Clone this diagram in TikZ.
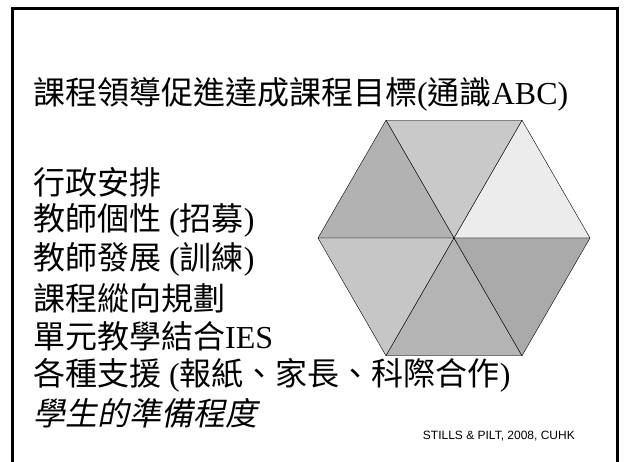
\documentclass[tikz,border=0pt]{standalone}
\usepackage{fontspec}
\setmainfont{Liberation Serif}
\newfontfamily\zhfont{Noto Sans CJK TC}
\newfontfamily\zhslfont{Noto Sans CJK TC}[FakeSlant=0.2]
\newfontfamily\notefont{Liberation Sans}
\newcommand\zh[1]{{\zhfont #1}}
\definecolor{hexA}{HTML}{B2B2B2}
\definecolor{hexB}{HTML}{C9C9C9}
\definecolor{hexC}{HTML}{ECECEC}
\definecolor{hexD}{HTML}{C6C6C6}
\definecolor{hexE}{HTML}{B4B4B4}
\definecolor{hexF}{HTML}{AAAAAA}
\tikzset{
  slidetext/.style={anchor=west,inner sep=0pt,font=\fontsize{32}{38}\selectfont},
  notetext/.style={anchor=east,inner sep=0pt,font=\notefont\fontsize{12}{14}\selectfont}
}
\begin{document}
\begin{tikzpicture}[x=1pt,y=1pt]
                \useasboundingbox (0,0) rectangle (624,462);
                \clip (0,0) rectangle (624,462);
                %% slide frame
                \draw[line width=3pt] (12,-10) -- (12,453) -- (617,453) -- (617,-10);
                %% title
                \node[slidetext] (title) at (33,368) {\zh{課程領導促進達成課程目標}(\zh{通識}ABC)};
                %% list
                \foreach \t [count=\i] in {{\zh{行政安排}},{\zh{教師個性} (\zh{招募})},{\zh{教師發展} (\zh{訓練})},{\zh{課程縱向規劃}},{\zh{單元教學結合}IES},{\zh{各種支援} (\zh{報紙、家長、科際合作})},{{\zhslfont 學生的準備程度}}}
                  \node[slidetext] (item\i) at (33,280-38.6*\i+38.6) {\t};
                %% hexagon
                \coordinate (hexc) at (454,224);
                \foreach \a/\c in {0/hexC,60/hexB,120/hexA,180/hexD,240/hexE,300/hexF}
                  \filldraw[fill=\c,draw=black,line join=round,shift={(hexc)}] (0,0) -- (\a:136) -- (\a+60:136) -- cycle;
                %% source
                \node[notetext] (source) at (575,26) {STILLS \& PILT, 2008, CUHK};
            \end{tikzpicture}
\end{document}
